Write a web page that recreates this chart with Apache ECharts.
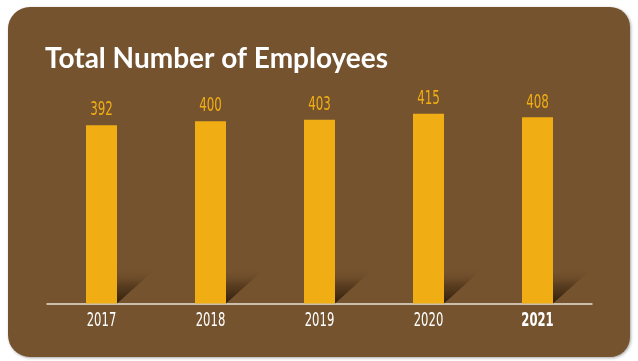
<!DOCTYPE html>
<html>
<head>
<meta charset="utf-8">
<script src="https://cdn.jsdelivr.net/npm/echarts@6/dist/echarts.min.js"></script>
<style>
html,body{margin:0;padding:0;background:#fff;}
#chart{width:638px;height:361px;}
</style>
</head>
<body>
<div id="chart"></div>
<script>
const years = ['2017', '2018', '2019', '2020', '2021'];
const employees = [392, 400, 403, 415, 408];
const yMin = 30;
const yMax = 500;

const chart = echarts.init(document.getElementById('chart'), null, {renderer: 'canvas'});
const condensed = '"DejaVu Sans Condensed", "DejaVu Sans", sans-serif';
const gold = '#f0ae14';

chart.setOption({
  backgroundColor: '#ffffff',
  animation: false,
  graphic: [{
    type: 'rect',
    z: -10,
    silent: true,
    shape: {x: 8, y: 7, width: 622, height: 350, r: [22, 20, 20, 22]},
    style: {fill: '#76532f', shadowColor: 'rgba(0,0,0,0.35)', shadowBlur: 3, shadowOffsetX: 1, shadowOffsetY: 1}
  }],
  title: {
    text: 'Total Number of Employees',
    left: 40,
    top: 40,
    textStyle: {color: '#ffffff', fontFamily: 'Lato', fontWeight: 'bold', fontSize: 28}
  },
  grid: {left: 47, right: 46, top: 72, bottom: 57.5},
  xAxis: {
    type: 'category',
    data: years,
    axisLine: {lineStyle: {color: '#e8e2d8', width: 1.5}},
    axisTick: {show: false},
    axisLabel: {show: false}
  },
  yAxis: {
    type: 'value', min: yMin, max: yMax, show: false, splitLine: {show: false}
  },
  series: [
    {
      type: 'custom',
      z: 1,
      silent: true,
      data: employees.map((v, i) => [i, v]),
      renderItem: function (params, api) {
        const base = api.coord([api.value(0), yMin]);
        const top = api.coord([api.value(0), api.value(1)]);
        const xr = base[0] + 15.5;
        const y0 = base[1];
        const idx = params.dataIndex;
        return {
          type: 'group',
          children: [
            {
              type: 'polygon',
              shape: {points: [[xr, y0], [xr, y0 - 36], [xr + 40, y0 - 36]]},
              style: {
                fill: new echarts.graphic.LinearGradient(0, 1, 0, 0, [
                  {offset: 0, color: 'rgba(45,28,10,0.95)'},
                  {offset: 0.5, color: 'rgba(60,38,15,0.5)'},
                  {offset: 1, color: 'rgba(118,83,47,0)'}
                ])
              }
            },
            {
              type: 'text',
              x: top[0], y: top[1] - 5,
              scaleX: 0.66,
              z2: 10,
              style: {
                text: String(api.value(1)),
                x: 0, y: 0,
                align: 'center', verticalAlign: 'bottom',
                fill: gold, fontFamily: condensed, fontSize: 20
              }
            },
            {
              type: 'text',
              x: base[0], y: y0 + 8,
              scaleX: 0.68,
              z2: 10,
              style: {
                text: years[idx],
                x: 0, y: 0,
                align: 'center', verticalAlign: 'top',
                fill: '#ffffff', fontFamily: condensed, fontSize: 19,
                fontWeight: idx === years.length - 1 ? 'bold' : 'normal'
              }
            }
          ]
        };
      }
    },
    {
      type: 'bar',
      z: 3,
      data: employees,
      barWidth: 31,
      itemStyle: {color: gold}
    }
  ]
});
</script>
</body>
</html>
